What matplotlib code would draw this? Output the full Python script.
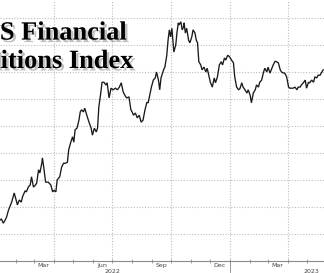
import numpy as np
import pandas as pd
import matplotlib
matplotlib.use("Agg")
import matplotlib.pyplot as plt
import matplotlib.dates as mdates
import matplotlib.patheffects as pe

# GS US Financial Conditions Index
dates = [
    "2022-01-07", "2022-01-09", "2022-01-12", "2022-01-15", "2022-01-17", "2022-01-20",
    "2022-01-25", "2022-01-29", "2022-02-01", "2022-02-03", "2022-02-06", "2022-02-09",
    "2022-02-11", "2022-02-15", "2022-02-17", "2022-02-20", "2022-02-23", "2022-02-25",
    "2022-02-28", "2022-03-02", "2022-03-05", "2022-03-08", "2022-03-10", "2022-03-13",
    "2022-03-14", "2022-03-16", "2022-03-19", "2022-03-23", "2022-03-27", "2022-03-30",
    "2022-04-01", "2022-04-04", "2022-04-06", "2022-04-10", "2022-04-13", "2022-04-16",
    "2022-04-19", "2022-04-22", "2022-04-24", "2022-04-27", "2022-04-30", "2022-05-02",
    "2022-05-04", "2022-05-07", "2022-05-10", "2022-05-12", "2022-05-14", "2022-05-17",
    "2022-05-19", "2022-05-23", "2022-05-26", "2022-05-29", "2022-05-31", "2022-06-03",
    "2022-06-06", "2022-06-08", "2022-06-10", "2022-06-13", "2022-06-15", "2022-06-18",
    "2022-06-21", "2022-06-23", "2022-06-26", "2022-06-29", "2022-07-02", "2022-07-06",
    "2022-07-09", "2022-07-12", "2022-07-15", "2022-07-18", "2022-07-22", "2022-07-24",
    "2022-07-27", "2022-07-30", "2022-08-01", "2022-08-03", "2022-08-06", "2022-08-09",
    "2022-08-12", "2022-08-15", "2022-08-18", "2022-08-21", "2022-08-24", "2022-08-26",
    "2022-08-29", "2022-08-31", "2022-09-03", "2022-09-06", "2022-09-08", "2022-09-11",
    "2022-09-13", "2022-09-15", "2022-09-19", "2022-09-21", "2022-09-24", "2022-09-26",
    "2022-09-28", "2022-09-30", "2022-10-02", "2022-10-05", "2022-10-08", "2022-10-10",
    "2022-10-12", "2022-10-13", "2022-10-16", "2022-10-18", "2022-10-20", "2022-10-21",
    "2022-10-23", "2022-10-25", "2022-10-28", "2022-10-30", "2022-11-02", "2022-11-04",
    "2022-11-07", "2022-11-09", "2022-11-11", "2022-11-13", "2022-11-16", "2022-11-18",
    "2022-11-21", "2022-11-24", "2022-11-26", "2022-11-29", "2022-12-01", "2022-12-04",
    "2022-12-07", "2022-12-09", "2022-12-12", "2022-12-15", "2022-12-18", "2022-12-20",
    "2022-12-23", "2022-12-25", "2022-12-28", "2022-12-31", "2023-01-03", "2023-01-06",
    "2023-01-08", "2023-01-11", "2023-01-14", "2023-01-16", "2023-01-19", "2023-01-21",
    "2023-01-24", "2023-01-27", "2023-01-29", "2023-02-01", "2023-02-03", "2023-02-06",
    "2023-02-09", "2023-02-11", "2023-02-14", "2023-02-16", "2023-02-19", "2023-02-22",
    "2023-02-24", "2023-02-27", "2023-03-01", "2023-03-04", "2023-03-07", "2023-03-09",
    "2023-03-12", "2023-03-14", "2023-03-17", "2023-03-20", "2023-03-22", "2023-03-25",
    "2023-03-27", "2023-03-30", "2023-04-02", "2023-04-04", "2023-04-07", "2023-04-09",
    "2023-04-12", "2023-04-15", "2023-04-17", "2023-04-20", "2023-04-22", "2023-04-25",
    "2023-04-28", "2023-04-30", "2023-05-03", "2023-05-05", "2023-05-08", "2023-05-11",
    "2023-05-13", "2023-05-16", "2023-05-18", "2023-05-21", "2023-05-24", "2023-05-26",
]
fci = [
    97.26, 97.28, 97.20, 97.26, 97.31, 97.44,
    97.59, 97.76, 97.63, 97.54, 97.63, 97.59,
    97.69, 97.80, 97.78, 97.87, 97.91, 98.06,
    97.87, 97.89, 97.94, 98.19, 98.13, 98.31,
    98.41, 98.24, 97.96, 97.96, 97.91, 97.78,
    97.81, 97.78, 98.00, 98.06, 98.24, 98.31,
    98.31, 98.33, 98.56, 98.69, 98.80, 98.70,
    98.93, 98.96, 99.11, 99.26, 99.30, 99.26,
    99.33, 99.17, 99.06, 98.96, 98.83, 98.96,
    98.89, 98.96, 99.35, 99.61, 99.81, 99.81,
    99.76, 99.80, 99.52, 99.70, 99.67, 99.70,
    99.67, 99.72, 99.80, 99.63, 99.54, 99.52,
    99.54, 99.30, 99.26, 99.20, 99.24, 99.15,
    99.20, 99.07, 99.11, 99.30, 99.44, 99.43,
    99.61, 99.72, 99.85, 99.89, 100.00, 99.85,
    99.67, 99.89, 100.04, 100.09, 100.31, 100.59,
    100.78, 100.65, 100.81, 100.37, 100.50, 100.74,
    100.91, 100.87, 100.93, 100.78, 100.83, 100.91,
    100.72, 100.81, 100.59, 100.54, 100.65, 100.78,
    100.72, 100.59, 100.54, 100.19, 100.13, 100.04,
    100.09, 100.00, 100.07, 99.91, 99.81, 99.72,
    99.89, 99.80, 99.91, 100.13, 100.19, 100.13,
    100.26, 100.22, 100.31, 100.28, 100.22, 100.17,
    99.91, 99.72, 99.67, 99.69, 99.80, 99.72,
    99.67, 99.61, 99.67, 99.57, 99.43, 99.61,
    99.67, 99.76, 99.72, 99.81, 99.85, 100.00,
    100.07, 100.00, 100.09, 99.98, 100.07, 100.13,
    100.20, 100.19, 100.17, 100.04, 100.00, 99.98,
    99.98, 99.91, 99.72, 99.70, 99.70, 99.70,
    99.72, 99.67, 99.72, 99.72, 99.76, 99.80,
    99.85, 99.70, 99.81, 99.80, 99.85, 99.81,
    99.91, 99.89, 99.94, 99.94, 100.00, 100.04,
]
month_labels = ["Mar", "Jun", "Sep", "Dec", "Mar"]
month_label_dates = ["2022-03-15", "2022-06-15", "2022-09-15", "2022-12-15", "2023-03-15"]
year_labels = ["2022", "2023"]
year_label_dates = ["2022-07-01", "2023-05-07"]
quarter_lines = ["2022-04-01", "2022-07-01", "2022-10-01", "2023-01-01", "2023-04-01"]

x = pd.to_datetime(dates)

fig = plt.figure(figsize=(3.24, 2.73), dpi=100)
ax = fig.add_axes([0, 12 / 273, 1, 261 / 273])

ax.plot(x, fci, color="#1a1a1a", lw=0.95, solid_joinstyle="miter")

ax.set_xlim(pd.Timestamp("2022-01-06 20:00"), pd.Timestamp("2023-05-27 06:00"))
ax.set_ylim(96.5, 101.333)

# grid
ax.set_yticks(np.arange(97.0, 101.01, 0.5))
ax.yaxis.grid(True, ls=(0, (1, 1.5)), color="#bdbdbd", lw=0.8)
for q in quarter_lines:
    ax.axvline(pd.Timestamp(q), ls=(0, (1, 1.5)), color="#bdbdbd", lw=0.8, zorder=0)
ax.tick_params(axis="y", left=False, labelleft=False)

for s in ["top", "right", "left"]:
    ax.spines[s].set_visible(False)
ax.spines["bottom"].set_color("#8c8c8c")
ax.spines["bottom"].set_linewidth(0.8)

# monthly ticks, labels mid-month
ax.xaxis.set_major_locator(mdates.MonthLocator())
ax.xaxis.set_major_formatter(plt.NullFormatter())
ax.tick_params(axis="x", which="major", direction="inout", length=3, width=0.6, color="#8c8c8c")
ax.set_xticks(pd.to_datetime(month_label_dates), month_labels, minor=True)
ax.tick_params(axis="x", which="minor", length=0, pad=1.5, labelsize=4.5, labelcolor="#444444")

tr = ax.get_xaxis_transform()
for lab, d in zip(year_labels, year_label_dates):
    ax.text(pd.Timestamp(d), -0.03, lab, transform=tr, ha="center", va="top",
            fontsize=4.5, color="#444444", clip_on=False)
ax.plot([pd.Timestamp("2023-01-01")] * 2, [0, -0.06], transform=tr, color="#8c8c8c",
        lw=0.6, clip_on=False)

# title is cropped at the left edge in the reference
title = fig.text(-61 / 324, 1 - 68 / 273, "GS US Financial\nConditions Index",
                 family="Liberation Serif", weight="bold", fontsize=19, color="black",
                 ha="left", va="baseline", linespacing=1.3)
title.set_path_effects([pe.SimplePatchShadow(offset=(1.8, -1.8), shadow_rgbFace="#777777", alpha=0.45),
                        pe.Normal()])

fig.savefig("out.png", dpi=100, facecolor="white")
